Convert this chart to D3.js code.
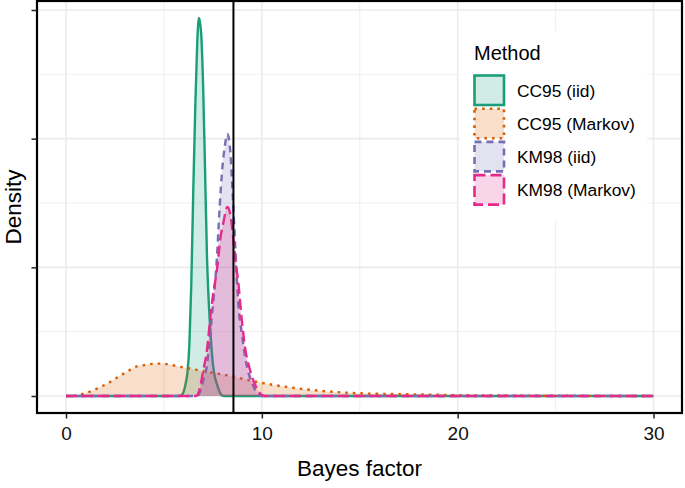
<!DOCTYPE html>
<html>
<head>
<meta charset="utf-8">
<script src="https://cdn.jsdelivr.net/npm/d3@7"></script>
<style>
  html, body { margin: 0; padding: 0; background: #fff; }
  svg text { font-family: "Liberation Sans", Arial, Helvetica, sans-serif; }
</style>
</head>
<body>
<svg id="chart" width="685" height="488"></svg>
<script>
// ---------------- data ----------------
const methods = ["CC95 (iid)", "CC95 (Markov)", "KM98 (iid)", "KM98 (Markov)"];
const colors = ["#1B9E77", "#D95F02", "#7570B3", "#E7298A"];

const cc95iidX = [0, 5.7, 5.9, 6.0, 6.1, 6.2, 6.3, 6.4, 6.5, 6.6, 6.7, 6.79, 6.9, 7.0, 7.1, 7.2, 7.3, 7.4, 7.5, 7.6, 7.7, 7.8, 7.9, 8.0, 8.2, 30];
const cc95iidY = [0, 0, 0.004, 0.015, 0.045, 0.09, 0.2, 0.44, 0.80, 1.12, 1.37, 1.469, 1.41, 1.21, 0.88, 0.54, 0.35, 0.22, 0.125, 0.075, 0.048, 0.025, 0.008, 0.001, 0, 0];

const cc95markovX = [0, 0.34, 0.94, 1.62, 2.13, 2.55, 3.06, 3.58, 4.0, 4.43, 4.85, 5.28, 5.79, 6.3, 6.98, 7.66, 8.38, 9.40, 10.59, 11.78, 13.48, 15.19, 17.74, 20.29, 23.7, 27, 30];
const cc95markovY = [0, 0.001, 0.01, 0.03, 0.049, 0.069, 0.092, 0.114, 0.12, 0.125, 0.126, 0.122, 0.114, 0.107, 0.097, 0.088, 0.078, 0.06, 0.043, 0.030, 0.017, 0.010, 0.0065, 0.003, 0.0013, 0.0005, 0];

const km98iidX = [0, 6.6, 6.76, 6.9, 7.0, 7.2, 7.35, 7.5, 7.6, 7.7, 7.8, 7.9, 8.0, 8.1, 8.24, 8.4, 8.5, 8.6, 8.7, 8.8, 9.0, 9.15, 9.3, 9.5, 9.7, 9.9, 10.1, 30];
const km98iidY = [0, 0, 0.003, 0.03, 0.06, 0.12, 0.23, 0.35, 0.43, 0.53, 0.67, 0.80, 0.90, 0.965, 1.018, 0.94, 0.80, 0.65, 0.49, 0.36, 0.23, 0.15, 0.095, 0.05, 0.018, 0.002, 0, 0];

const km98markovX = [0, 6.6, 6.7, 6.85, 7.0, 7.2, 7.35, 7.5, 7.65, 7.75, 7.87, 8.03, 8.24, 8.41, 8.55, 8.67, 8.8, 8.97, 9.15, 9.4, 9.7, 10.0, 10.2, 30];
const km98markovY = [0, 0, 0.003, 0.036, 0.095, 0.18, 0.29, 0.39, 0.46, 0.516, 0.606, 0.671, 0.735, 0.697, 0.606, 0.516, 0.44, 0.30, 0.185, 0.10, 0.036, 0.004, 0, 0];

const xTicks = [0, 10, 20, 30];
const xTickLabels = ["0", "10", "20", "30"];
const xMinor = [5, 15, 25];
const yTicks = [0, 0.5, 1.0, 1.5];
const yMinor = [0.25, 0.75, 1.25];
const vlineX = 8.55;

// ---------------- layout ----------------
const panel = { x0: 37, x1: 682, y0: 1, y1: 413 };
const svg = d3.select("#chart");

const x = d3.scaleLinear().domain([0, 30]).range([66, 653.5]);
const y = d3.scaleLinear().domain([0, 1.5]).range([396, 10]);

const series = [
  { name: methods[0], xs: cc95iidX, ys: cc95iidY, color: colors[0], dash: null },
  { name: methods[1], xs: cc95markovX, ys: cc95markovY, color: colors[1], dash: "2.6,5" },
  { name: methods[2], xs: km98iidX, ys: km98iidY, color: colors[2], dash: "7,5" },
  { name: methods[3], xs: km98markovX, ys: km98markovY, color: colors[3], dash: "11,5" }
];
const lw = 2.4;

// panel background
svg.append("rect").attr("x", panel.x0).attr("y", panel.y0)
  .attr("width", panel.x1 - panel.x0).attr("height", panel.y1 - panel.y0)
  .attr("fill", "#fff");

const grid = svg.append("g");
xMinor.forEach(v => grid.append("line").attr("x1", x(v)).attr("x2", x(v))
  .attr("y1", panel.y0).attr("y2", panel.y1).attr("stroke", "#EBEBEB").attr("stroke-width", 0.8));
yMinor.forEach(v => grid.append("line").attr("y1", y(v)).attr("y2", y(v))
  .attr("x1", panel.x0).attr("x2", panel.x1).attr("stroke", "#EBEBEB").attr("stroke-width", 0.8));
xTicks.forEach(v => grid.append("line").attr("x1", x(v)).attr("x2", x(v))
  .attr("y1", panel.y0).attr("y2", panel.y1).attr("stroke", "#EBEBEB").attr("stroke-width", 1.6));
yTicks.forEach(v => grid.append("line").attr("y1", y(v)).attr("y2", y(v))
  .attr("x1", panel.x0).attr("x2", panel.x1).attr("stroke", "#EBEBEB").attr("stroke-width", 1.6));

// densities
const area = d3.area().x(d => x(d[0])).y0(y(0)).y1(d => y(d[1])).curve(d3.curveMonotoneX);
const line = d3.line().x(d => x(d[0])).y(d => y(d[1])).curve(d3.curveMonotoneX);

const dens = svg.append("g");
series.forEach(s => {
  const pts = s.xs.map((v, i) => [v, s.ys[i]]);
  dens.append("path").attr("d", area(pts)).attr("fill", s.color).attr("fill-opacity", 0.2);
  dens.append("path").attr("d", line(pts)).attr("fill", "none")
    .attr("stroke", s.color).attr("stroke-width", lw)
    .attr("stroke-dasharray", s.dash).attr("stroke-linejoin", "round");
});

// vertical reference line
svg.append("line").attr("x1", x(vlineX)).attr("x2", x(vlineX))
  .attr("y1", panel.y0).attr("y2", panel.y1)
  .attr("stroke", "#000").attr("stroke-width", 2);

// legend
const lg = svg.append("g");
lg.append("rect").attr("x", 460).attr("y", 31).attr("width", 187).attr("height", 189).attr("fill", "#fff");
lg.append("text").attr("x", 474).attr("y", 60).attr("font-size", 20).attr("fill", "#000").text("Method");
series.forEach((s, i) => {
  const ky = 75.5 + i * 33.2;
  lg.append("rect").attr("x", 474.5).attr("y", ky).attr("width", 29.5).attr("height", 29.5)
    .attr("fill", s.color).attr("fill-opacity", 0.2);
  lg.append("rect").attr("x", 474.5).attr("y", ky).attr("width", 29.5).attr("height", 29.5)
    .attr("fill", "none").attr("stroke", s.color).attr("stroke-width", 2.6)
    .attr("stroke-dasharray", s.dash);
  lg.append("text").attr("x", 517).attr("y", ky + 21.2).attr("font-size", 17.4).attr("fill", "#000").text(s.name);
});

// panel border
svg.append("rect").attr("x", panel.x0).attr("y", panel.y0)
  .attr("width", panel.x1 - panel.x0).attr("height", panel.y1 - panel.y0)
  .attr("fill", "none").attr("stroke", "#000").attr("stroke-width", 2.2);

// axes
const xAxis = svg.append("g").attr("transform", `translate(0,${panel.y1})`)
  .call(d3.axisBottom(x).tickValues(xTicks).tickFormat((d, i) => xTickLabels[i]).tickSize(5.5).tickPadding(8));
xAxis.select(".domain").remove();
xAxis.selectAll("line").attr("stroke", "#222").attr("stroke-width", 1.5);
xAxis.selectAll("text").attr("font-size", 19).attr("fill", "#111")
  .attr("font-family", "Liberation Sans, Arial, sans-serif");

const yAxis = svg.append("g").attr("transform", `translate(${panel.x0},0)`)
  .call(d3.axisLeft(y).tickValues(yTicks).tickFormat("").tickSize(5.5));
yAxis.select(".domain").remove();
yAxis.selectAll("line").attr("stroke", "#222").attr("stroke-width", 1.5);

// axis titles
svg.append("text").attr("x", (panel.x0 + panel.x1) / 2).attr("y", 476)
  .attr("text-anchor", "middle").attr("font-size", 22.5).attr("fill", "#000").text("Bayes factor");
svg.append("text").attr("transform", `translate(21,${(panel.y0 + panel.y1) / 2}) rotate(-90)`)
  .attr("text-anchor", "middle").attr("font-size", 22.5).attr("fill", "#000").text("Density");
</script>
</body>
</html>
